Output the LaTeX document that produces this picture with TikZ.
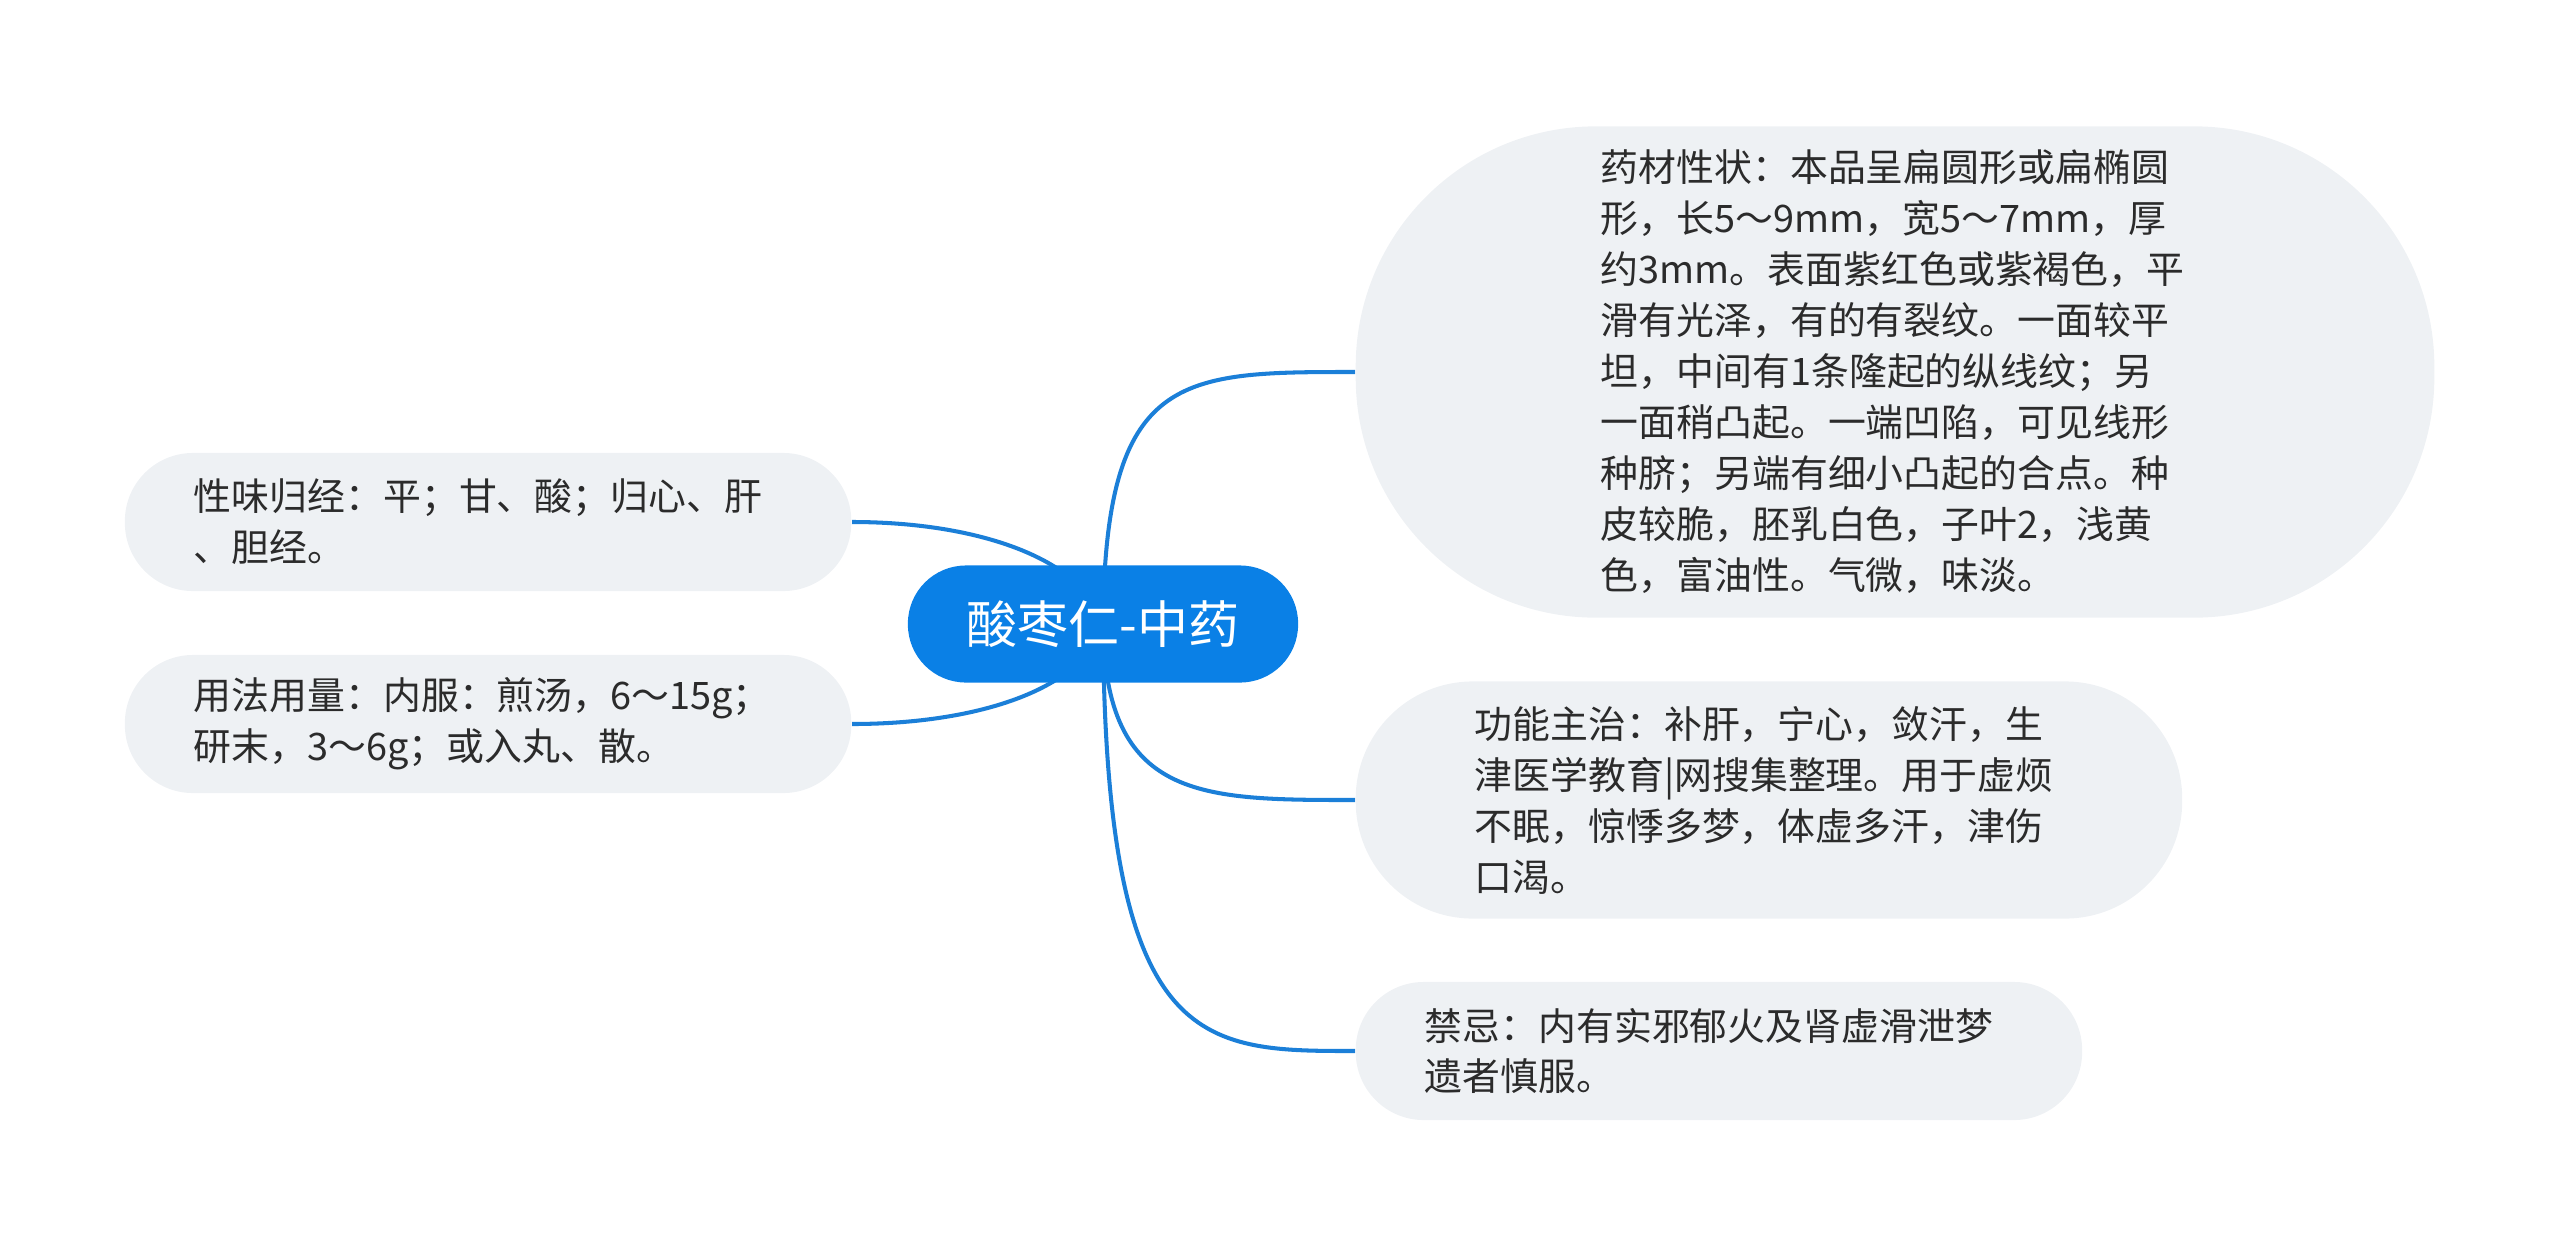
\documentclass[tikz,border=0pt]{standalone}
\usepackage{fontspec}
\setmainfont{Noto Sans CJK SC}
\usetikzlibrary{backgrounds}

\definecolor{topicblue}{HTML}{0A80E6}
\definecolor{boxgray}{HTML}{EEF1F4}
\definecolor{textgray}{HTML}{2B2B2B}
\definecolor{linkblue}{HTML}{1B7FD8}

\tikzstyle{topic} = [rectangle, fill=topicblue, text=white,
    minimum width=3.9cm, minimum height=1.17cm, rounded corners=.58cm,
    font=\fontsize{14.5pt}{18pt}\selectfont]
\tikzstyle{leaf} = [rectangle, fill=boxgray, text=textgray,
    text width=5.88cm, align=left, inner ysep=0pt,
    font=\fontsize{10.77pt}{14.5pt}\selectfont]
\tikzstyle{leafs} = [leaf, inner xsep=.69cm, minimum height=1.38cm, rounded corners=.68cm]
\tikzstyle{leafm} = [leaf, inner xsep=1.19cm, minimum height=2.37cm, rounded corners=1.17cm]
\tikzstyle{leafb} = [leaf, inner xsep=2.45cm, minimum height=4.91cm, rounded corners=2.4cm]
\tikzstyle{link} = [draw=linkblue, line width=1.15pt]

\begin{document}
\begin{tikzpicture}[x=0.01cm, y=-0.01cm]
	\useasboundingbox (0,0) rectangle (2560,1248);
	\node [topic] (root) at (1103,624) {酸枣仁-中药};
	%
	\node [leafb, anchor=west] (xingzhuang) at (1355,372) {药材性状：本品呈扁圆形或扁椭圆\\形，长5～9mm，宽5～7mm，厚\\约3mm。表面紫红色或紫褐色，平\\滑有光泽，有的有裂纹。一面较平\\坦，中间有1条隆起的纵线纹；另\\一面稍凸起。一端凹陷，可见线形\\种脐；另端有细小凸起的合点。种\\皮较脆，胚乳白色，子叶2，浅黄\\色，富油性。气微，味淡。};
	\node [leafm, anchor=west] (gongneng) at (1355,800) {功能主治：补肝，宁心，敛汗，生\\津医学教育|网搜集整理。用于虚烦\\不眠，惊悸多梦，体虚多汗，津伤\\口渴。};
	\node [leafs, anchor=west] (jinji) at (1355,1051) {禁忌：内有实邪郁火及肾虚滑泄梦\\遗者慎服。};
	%
	\node [leafs, anchor=east] (xingwei) at (852,522) {性味归经：平；甘、酸；归心、肝\\、胆经。};
	\node [leafs, anchor=east] (yongfa) at (852,724) {用法用量：内服：煎汤，6～15g；\\研末，3～6g；或入丸、散。};
	%
	\begin{scope}[on background layer]
		\draw [link] (root.center) .. controls (1105,372) and (1180,372) .. (xingzhuang.west);
		\draw [link] (root.center) .. controls (1105,800) and (1200,800) .. (gongneng.west);
		\draw [link] (root.center) .. controls (1105,1051) and (1200,1051) .. (jinji.west);
		\draw [link] (root.center) .. controls (1085,560) and (980,522) .. (xingwei.east);
		\draw [link] (root.center) .. controls (1085,688) and (980,724) .. (yongfa.east);
	\end{scope}
\end{tikzpicture}
\end{document}
